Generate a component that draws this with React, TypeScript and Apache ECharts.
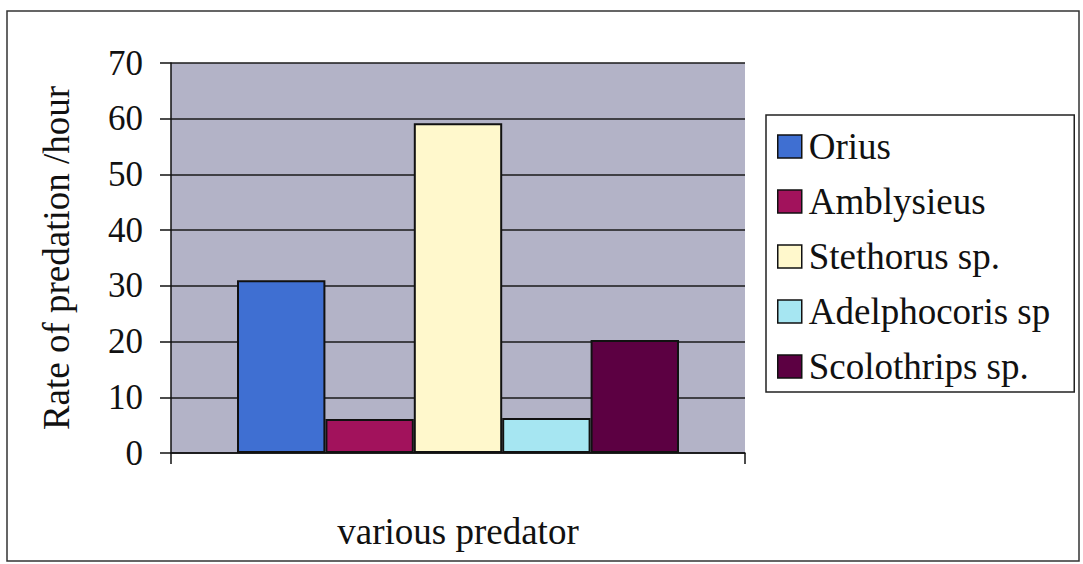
import React, { useEffect, useRef } from "react";
import * as echarts from "echarts";

const categories = ["various predator"];
const seriesNames = ["Orius", "Amblysieus", "Stethorus sp.", "Adelphocoris sp", "Scolothrips sp."];
const seriesValues = [31, 6.1, 59.2, 6.3, 20.3];
const seriesColors = ["#3F6FD2", "#A2125C", "#FFF8CC", "#A6E6F2", "#5C0042"];
const yTicks = { min: 0, max: 70, interval: 10 };

const FONT = "'Liberation Serif', 'Times New Roman', serif";

export default function App() {
  const ref = useRef<HTMLDivElement>(null);
  useEffect(() => {
    if (!ref.current) return;
    const chart = echarts.init(ref.current, undefined, { renderer: "svg" });
    chart.setOption({
      animation: false,
      backgroundColor: "#ffffff",
      textStyle: { fontFamily: FONT, color: "#111" },
      grid: {
        left: 171,
        right: 338,
        top: 63,
        bottom: 111,
        show: true,
        backgroundColor: "#B3B3C7",
        borderWidth: 0,
      },
      legend: {
        orient: "vertical",
        left: 766,
        top: 115,
        padding: [13, 24, 7, 11],
        itemWidth: 24,
        itemHeight: 23,
        itemGap: 18,
        borderColor: "#222",
        borderWidth: 1.5,
        data: seriesNames,
        textStyle: { fontFamily: FONT, fontSize: 37, color: "#111", padding: [0, 0, 0, 2] },
        itemStyle: { borderColor: "#111", borderWidth: 1.5 },
        icon: "rect",
      },
      xAxis: {
        type: "category",
        data: categories,
        name: "various predator",
        nameLocation: "middle",
        nameGap: 60,
        nameTextStyle: { fontFamily: FONT, fontSize: 37, color: "#111" },
        axisLabel: { show: false },
        axisLine: { lineStyle: { color: "#111", width: 1.5 } },
        axisTick: { show: true, length: 11, lineStyle: { color: "#111", width: 1.5 } },
      },
      yAxis: {
        type: "value",
        min: yTicks.min,
        max: yTicks.max,
        interval: yTicks.interval,
        name: "Rate of predation /hour",
        nameLocation: "middle",
        nameGap: 96,
        nameTextStyle: { fontFamily: FONT, fontSize: 37, color: "#111" },
        axisLabel: { fontFamily: FONT, fontSize: 35, color: "#111", margin: 28 },
        axisLine: { show: true, lineStyle: { color: "#111", width: 1.5 } },
        axisTick: { show: true, length: 11, lineStyle: { color: "#111", width: 1.5 } },
        splitLine: { show: true, lineStyle: { color: "#1a1a1a", width: 1.5 } },
      },
      graphic: [
        {
          type: "rect",
          shape: { x: 7, y: 11, width: 1072, height: 550 },
          style: { fill: "none", stroke: "#333", lineWidth: 1.5 },
          silent: true,
        },
      ],
      series: seriesNames.map((name, i) => ({
        name,
        type: "bar",
        data: [seriesValues[i]],
        barGap: "0%",
        barCategoryGap: "23%",
        itemStyle: { color: seriesColors[i], borderColor: "#111", borderWidth: 2 },
      })),
    });
    return () => chart.dispose();
  }, []);
  return (
    <div
      ref={ref}
      style={{ position: "fixed", left: 0, top: 0, width: 1083, height: 564 }}
    />
  );
}
